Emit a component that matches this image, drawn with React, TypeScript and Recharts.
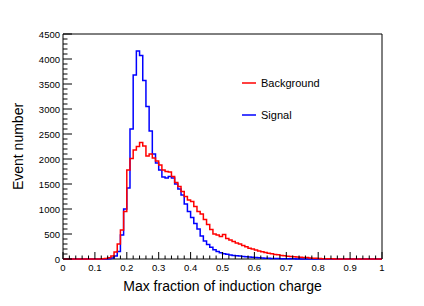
import React from 'react';
import { LineChart, Line, XAxis, YAxis, Legend, ReferenceArea } from 'recharts';

// bin contents, bins of width 0.01 from 0 to 1
const background = [
  0, 0, 0, 0, 0, 0, 0, 0, 0, 0,
  1, 2, 4, 10, 25, 60, 140, 300, 580, 950,
  1780, 2010, 2180, 2250, 2330, 2260, 2060, 2100, 2020, 1960,
  1880, 1780, 1750, 1740, 1650, 1530, 1450, 1350, 1250, 1180,
  1150, 1050, 950, 900, 790, 690, 590, 500, 480, 450,
  490, 410, 380, 350, 320, 300, 270, 245, 215, 200,
  180, 160, 147, 130, 115, 105, 92, 85, 72, 65,
  55, 48, 45, 40, 36, 32, 28, 22, 17, 13,
  10, 7, 5, 4, 3, 2, 2, 1, 1, 0,
  0, 0, 0, 0, 0, 0, 0, 0, 0, 0,
];
const signal = [
  0, 0, 0, 0, 0, 0, 0, 0, 0, 0,
  0, 0, 1, 2, 6, 20, 60, 150, 480, 1000,
  1420, 2600, 3680, 4160, 4070, 3570, 3050, 2560, 2100, 1920,
  1780, 1640, 1620, 1650, 1620, 1500, 1400, 1280, 1100, 950,
  830, 710, 600, 460, 360, 290, 235, 185, 150, 125,
  105, 95, 80, 72, 65, 58, 50, 45, 40, 35,
  28, 24, 20, 17, 14, 12, 10, 8, 6, 5,
  4, 3, 3, 2, 2, 1, 1, 0, 0, 0,
  0, 0, 0, 0, 0, 0, 0, 0, 0, 0,
  0, 0, 0, 0, 0, 0, 0, 0, 0, 0,
];

// major ticks get a label, minor ones only a short mark
const xTicks = Array.from({ length: 51 }, (_, i) => i / 50);
const yTicks = Array.from({ length: 46 }, (_, i) => i * 100);
const X_MAJOR = 0.1;
const Y_MAJOR = 500;

const legendItems = [
  { name: 'Background', color: '#ff0000' },
  { name: 'Signal', color: '#0000ff' },
];

const data = background.map((bg, i) => ({ x: i / 100, bg, sig: signal[i] }));
data.push({ x: 1, bg: background[99], sig: signal[99] });

const FONT = '"Liberation Sans", Arial, Helvetica, sans-serif';
const X_TICK_GAP = 5;
const Y_TICK_GAP = 3;

const isMajor = (v: number, step: number) => Math.abs(v / step - Math.round(v / step)) < 1e-6;

const XTick = ({ x, y, payload }: any) => {
  const major = isMajor(payload.value, X_MAJOR);
  const axisY = y - X_TICK_GAP;
  return (
    <g>
      <line x1={x} x2={x} y1={axisY} y2={axisY - (major ? 7 : 3.5)} stroke="#000" />
      {major && (
        <text x={x} y={axisY + 12} textAnchor="middle" fontSize={9.5} fill="#000">
          {String(+payload.value.toFixed(1))}
        </text>
      )}
    </g>
  );
};

const YTick = ({ x, y, payload }: any) => {
  const major = isMajor(payload.value, Y_MAJOR);
  const axisX = x + Y_TICK_GAP;
  return (
    <g>
      <line x1={axisX} x2={axisX + (major ? 9 : 4.5)} y1={y} y2={y} stroke="#000" />
      {major && (
        <text x={x} y={y + 3.5} textAnchor="end" fontSize={9.5} fill="#000">
          {payload.value}
        </text>
      )}
    </g>
  );
};

const LegendBox = () => (
  <div style={{ fontFamily: FONT, fontSize: 11, color: '#000' }}>
    {legendItems.map((item) => (
      <div key={item.name} style={{ height: 32, display: 'flex', alignItems: 'center' }}>
        <svg width={17} height={4} style={{ marginRight: 2 }}>
          <line x1={0} y1={2} x2={14} y2={2} stroke={item.color} strokeWidth={1.5} />
        </svg>
        <span>{item.name}</span>
      </div>
    ))}
  </div>
);

const XTitle = ({ viewBox }: any) => (
  <text x={viewBox.x + viewBox.width / 2} y={viewBox.y + 32} textAnchor="middle" fontSize={14} fill="#000">
    Max fraction of induction charge
  </text>
);

const YTitle = ({ viewBox }: any) => {
  const cx = viewBox.x + 18;
  const cy = viewBox.y + viewBox.height / 2;
  return (
    <text x={cx} y={cy} transform={`rotate(-90 ${cx} ${cy})`} textAnchor="middle" dominantBaseline="central" fontSize={14} fill="#000">
      Event number
    </text>
  );
};

export default function App() {
  return (
    <div style={{ position: 'absolute', left: 0, top: 0, width: 424, height: 306, background: '#fff', fontFamily: FONT }}>
      <LineChart width={424} height={306} data={data} margin={{ top: 34, right: 42, left: 0, bottom: 0 }}>
        <XAxis
          dataKey="x"
          type="number"
          domain={[0, 1]}
          ticks={xTicks}
          interval={0}
          height={47}
          tickSize={0}
          tickMargin={X_TICK_GAP}
          tickLine={false}
          axisLine={false}
          tick={XTick}
          label={XTitle}
        />
        <YAxis
          type="number"
          domain={[0, 4500]}
          ticks={yTicks}
          interval={0}
          width={63}
          tickSize={0}
          tickMargin={Y_TICK_GAP}
          tickLine={false}
          axisLine={false}
          tick={YTick}
          label={YTitle}
        />

        {/* frame */}
        <ReferenceArea x1={0} x2={1} y1={0} y2={4500} fill="none" stroke="#000" strokeWidth={1} fillOpacity={0} />

        <Legend
          layout="horizontal"
          verticalAlign="middle"
          align="center"
          content={LegendBox}
          wrapperStyle={{ left: 242, top: 67, width: 'auto' }}
        />

        <Line
          type="stepAfter"
          dataKey="sig"
          name="Signal"
          stroke="#0000ff"
          strokeWidth={1.5}
          dot={false}
          isAnimationActive={false}
        />
        <Line
          type="stepAfter"
          dataKey="bg"
          name="Background"
          stroke="#ff0000"
          strokeWidth={1.5}
          dot={false}
          isAnimationActive={false}
        />
      </LineChart>
    </div>
  );
}
